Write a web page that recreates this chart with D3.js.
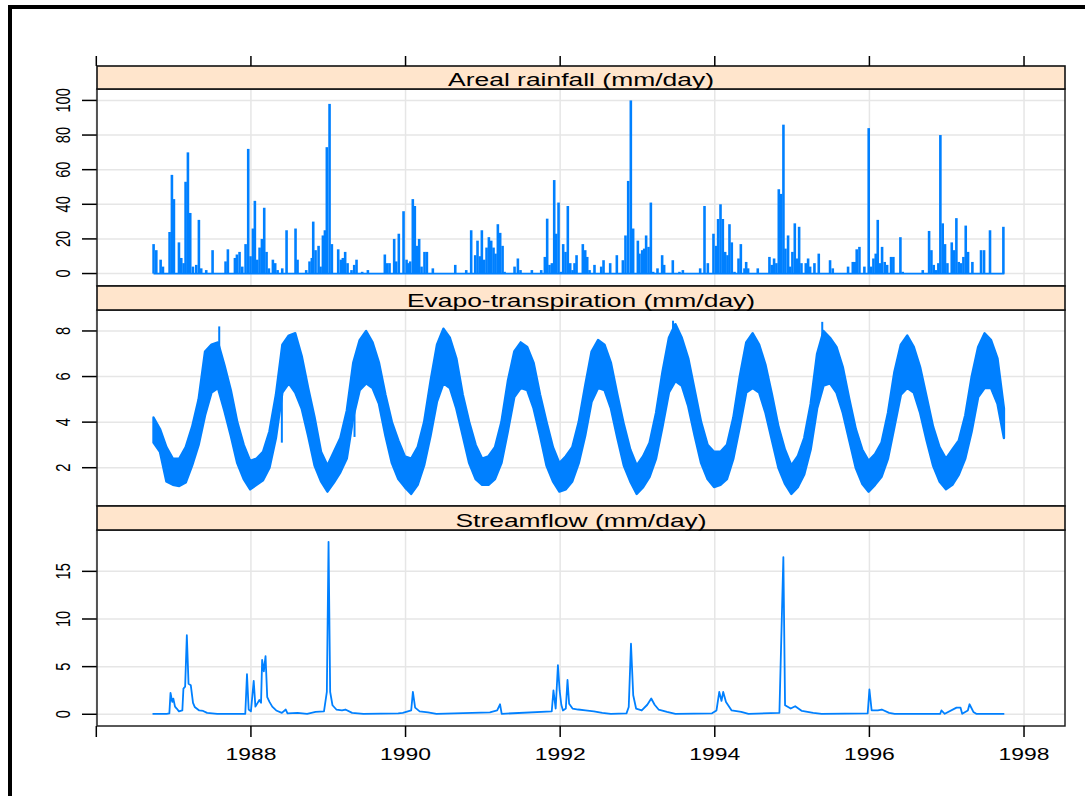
<!DOCTYPE html>
<html>
<head>
<meta charset="utf-8">
<script src="https://d3js.org/d3.v7.min.js"></script>
<style>
  body { margin: 0; background: #fff; }
  text { font-family: "Liberation Sans", Arial, sans-serif; fill: #000; }
</style>
</head>
<body>
<script>
// ---- data ----
var xTicks = [1986, 1988, 1990, 1992, 1994, 1996, 1998];
var xTickLabels = ["", "1988", "1990", "1992", "1994", "1996", "1998"];

var stripTitles = ["Areal rainfall (mm/day)", "Evapo-transpiration (mm/day)", "Streamflow (mm/day)"];
var yTicksRain = [0, 20, 40, 60, 80, 100];
var yTicksEt = [2, 4, 6, 8];
var yTicksFlow = [0, 5, 10, 15];

// rainfall: start/end of record, then wet days [decimal year, mm]
var rainSpan = [1986.74, 1997.746];
var rainDays = [
  [1986.741,17],[1986.776,13.5],[1986.832,8],[1986.862,4],[1986.948,24],[1986.978,57],[1987.004,43],
  [1987.069,18],[1987.099,9],[1987.129,6],[1987.155,53],[1987.185,70],[1987.215,35],[1987.250,4],
  [1987.293,5],[1987.327,31],[1987.357,3],[1987.422,2],[1987.504,13.5],[1987.672,7],[1987.702,14],
  [1987.793,9],[1987.819,11],[1987.853,12.5],[1987.888,4],[1987.931,17],[1987.965,72],[1987.995,10],
  [1988.026,26],[1988.051,42],[1988.082,8],[1988.112,15],[1988.142,20],[1988.172,38],[1988.202,12.5],
  [1988.232,3],[1988.284,8],[1988.314,6],[1988.345,2],[1988.405,3],[1988.461,25],[1988.577,26],
  [1988.603,8],[1988.715,2],[1988.758,7],[1988.788,9],[1988.806,30],[1988.836,13.5],[1988.875,16],
  [1988.901,4],[1988.931,22],[1988.957,25],[1988.982,73],[1989.017,98],[1989.047,17],[1989.129,14],
  [1989.163,8],[1989.189,9],[1989.219,12.5],[1989.250,6],[1989.301,2],[1989.336,5],[1989.366,8],
  [1989.439,1],[1989.513,2],[1989.732,11],[1989.763,6],[1989.793,6],[1989.853,20],[1989.879,7],
  [1989.913,23],[1989.974,36],[1990.013,8],[1990.034,6],[1990.060,7],[1990.094,43],[1990.120,39],
  [1990.146,16],[1990.176,20],[1990.207,4],[1990.245,12.5],[1990.276,12.5],[1990.353,3],
  [1990.643,5],[1990.785,2],[1990.849,25],[1990.901,10.6],[1990.931,19],[1990.962,10],[1990.987,25],
  [1991.018,8],[1991.048,15],[1991.078,21],[1991.108,19],[1991.138,15],[1991.164,11.5],[1991.194,28.5],
  [1991.224,23.5],[1991.255,16],[1991.281,1],[1991.410,4],[1991.453,8.7],[1991.487,2],[1991.634,2],
  [1991.755,2],[1991.802,9.6],[1991.832,31.7],[1991.862,5],[1991.893,6],[1991.923,54],[1991.949,23],
  [1991.979,41],[1992.009,1],[1992.039,17],[1992.069,12.5],[1992.099,39],[1992.130,6],[1992.160,2],
  [1992.186,6],[1992.212,10.6],[1992.293,17],[1992.324,13.5],[1992.350,9.6],[1992.380,2],[1992.444,5],
  [1992.531,4],[1992.561,7.7],[1992.647,6],[1992.733,10.6],[1992.811,7.7],[1992.845,22],[1992.880,53.5],
  [1992.914,100],[1992.944,26],[1993.005,19],[1993.026,11.5],[1993.061,13.5],[1993.087,14.4],
  [1993.112,22],[1993.143,15.4],[1993.173,41],[1993.203,1],[1993.259,3],[1993.319,10.6],[1993.345,5],
  [1993.457,7.7],[1993.543,1],[1993.587,2],[1993.811,3],[1993.867,39],[1993.910,6],[1993.983,23],
  [1994.018,16],[1994.043,31.5],[1994.074,40],[1994.104,31.5],[1994.134,12.5],[1994.164,10.6],
  [1994.190,28.5],[1994.220,18],[1994.255,1],[1994.307,8.7],[1994.337,17],[1994.384,3],[1994.406,6.7],
  [1994.431,3],[1994.556,3],[1994.707,9.6],[1994.737,5],[1994.767,8.7],[1994.797,6],[1994.828,48.7],
  [1994.858,46],[1994.888,86],[1994.914,14.4],[1994.948,22],[1994.974,4],[1995.004,12.5],[1995.035,29],
  [1995.065,8.7],[1995.091,27],[1995.121,6],[1995.177,6],[1995.207,8.7],[1995.233,4],[1995.289,6],
  [1995.345,11.5],[1995.491,7.7],[1995.526,3],[1995.724,4],[1995.785,6.7],[1995.810,6.7],[1995.836,14],
  [1995.871,15.4],[1995.935,4],[1995.991,84],[1996.022,4],[1996.052,8.7],[1996.082,11.5],[1996.108,31],
  [1996.138,6],[1996.164,15.4],[1996.198,6.7],[1996.229,5],[1996.280,9.6],[1996.310,9.6],[1996.401,21],
  [1996.431,1],[1996.690,2],[1996.772,24.6],[1996.802,13.5],[1996.832,5],[1996.862,2],[1996.892,6],
  [1996.918,80],[1996.948,29],[1996.978,17],[1997.009,6],[1997.065,18],[1997.095,13.5],[1997.125,32],
  [1997.155,6.7],[1997.185,6],[1997.216,9.6],[1997.246,27.7],[1997.276,12.5],[1997.332,6.7],
  [1997.444,13.5],[1997.483,13.5],[1997.560,25],[1997.733,27]
];

// evapo-transpiration: monthly low / high of the daily band, from late Sep 1986
var etStart = 1986.74;
var etLow = [
  3.1, 2.7, 1.4, 1.25,
  1.2, 1.35, 2.1, 3.0, 4.3, 5.3, 5.5, 4.5, 3.4, 2.2, 1.5, 1.05,
  1.25, 1.45, 2.0, 3.3, 5.3, 5.7, 5.3, 4.6, 3.4, 2.1, 1.4, 0.95,
  1.35, 1.8, 2.4, 4.2, 5.4, 5.7, 5.5, 4.8, 3.4, 2.2, 1.5, 1.15,
  0.85, 1.25, 2.1, 3.4, 4.9, 5.7, 5.5, 4.6, 3.4, 2.2, 1.5, 1.25,
  1.25, 1.5, 2.2, 3.6, 5.1, 5.5, 5.4, 4.6, 3.4, 2.1, 1.4, 0.95,
  1.05, 1.4, 2.2, 3.4, 4.9, 5.5, 5.4, 4.6, 3.3, 2.1, 1.4, 0.85,
  1.15, 1.6, 2.4, 3.8, 5.3, 5.8, 5.6, 4.7, 3.4, 2.2, 1.5, 1.15,
  1.25, 1.5, 2.4, 3.8, 5.3, 5.5, 5.3, 4.4, 3.2, 2.0, 1.3, 0.85,
  1.15, 1.7, 2.8, 4.6, 5.6, 5.7, 5.3, 4.4, 3.2, 2.0, 1.3, 0.95,
  1.25, 1.6, 2.4, 3.8, 5.2, 5.5, 5.3, 4.4, 3.2, 2.1, 1.4, 1.05,
  1.25, 1.7, 2.4, 3.6, 5.1, 5.5, 5.5, 4.8, 3.3
];
var etHigh = [
  4.2, 3.7, 2.9, 2.4,
  2.4, 2.9, 3.8, 5.0, 7.1, 7.4, 7.5, 6.5, 5.4, 4.0, 3.0, 2.3,
  2.4, 2.7, 3.6, 5.2, 7.4, 7.8, 7.9, 6.9, 5.5, 4.2, 2.7, 2.1,
  2.7, 3.3, 4.5, 6.6, 7.6, 8.0, 7.5, 6.6, 5.2, 4.0, 3.2, 2.5,
  2.4, 2.9, 4.0, 5.8, 7.4, 8.1, 7.7, 6.8, 5.2, 4.0, 3.0, 2.4,
  2.5, 2.9, 4.0, 5.8, 7.1, 7.5, 7.3, 6.6, 5.2, 4.0, 2.9, 2.2,
  2.5, 2.9, 4.0, 5.6, 7.1, 7.6, 7.4, 6.6, 5.2, 3.9, 2.8, 2.1,
  2.5, 3.1, 4.4, 6.2, 7.7, 8.3, 7.7, 6.8, 5.4, 4.0, 3.0, 2.7,
  2.7, 3.0, 4.2, 6.0, 7.5, 7.9, 7.4, 6.5, 5.2, 3.8, 2.8, 2.1,
  2.5, 3.3, 4.8, 7.0, 8.0, 7.7, 7.3, 6.4, 5.0, 3.7, 2.8, 2.3,
  2.6, 3.1, 4.4, 6.2, 7.4, 7.8, 7.3, 6.4, 5.1, 3.8, 2.9, 2.4,
  2.8, 3.2, 4.3, 6.0, 7.3, 7.9, 7.6, 6.8, 4.6
];
// single days sticking out of the band [decimal year, from, to]
var etSpikes = [
  [1987.59, 7.0, 8.2], [1988.40, 5.5, 3.1], [1989.34, 5.0, 3.35],
  [1993.46, 7.8, 8.45], [1995.39, 7.6, 8.4]
];

// streamflow [decimal year, mm]
var flow = [
  [1986.727,0.05],[1986.909,0.05],[1986.945,0.1],[1986.960,2.25],[1986.982,1.3],[1986.996,1.65],
  [1987.018,0.8],[1987.040,0.6],[1987.069,0.3],[1987.113,0.4],[1987.127,2.7],[1987.149,2.9],
  [1987.171,8.3],[1987.193,3.2],[1987.222,3.05],[1987.251,1.2],[1987.273,0.77],[1987.331,0.4],
  [1987.382,0.35],[1987.433,0.15],[1987.564,0.05],[1987.927,0.05],[1987.949,4.2],[1987.971,0.5],
  [1988.000,0.3],[1988.036,3.5],[1988.058,0.8],[1988.087,1.2],[1988.109,1.5],[1988.131,1.2],
  [1988.145,5.7],[1988.167,4.5],[1988.189,6.1],[1988.211,1.8],[1988.240,1.3],[1988.276,0.8],
  [1988.327,0.4],[1988.400,0.15],[1988.451,0.5],[1988.473,0.1],[1988.604,0.15],[1988.727,0.05],
  [1988.836,0.25],[1988.945,0.3],[1988.982,2.35],[1989.004,18.1],[1989.025,2.35],[1989.055,0.95],
  [1989.105,0.5],[1989.178,0.4],[1989.222,0.5],[1989.309,0.15],[1989.455,0.05],[1989.905,0.1],
  [1989.964,0.15],[1990.073,0.4],[1990.095,2.35],[1990.124,0.7],[1990.182,0.3],[1990.291,0.2],
  [1990.400,0.05],[1991.091,0.2],[1991.185,0.4],[1991.222,1.05],[1991.244,0.05],[1991.891,0.3],
  [1991.913,2.5],[1991.942,0.6],[1991.971,5.15],[1991.993,2.5],[1992.015,1.0],[1992.036,0.4],
  [1992.073,0.6],[1992.095,3.6],[1992.116,1.1],[1992.160,0.6],[1992.233,0.5],[1992.327,0.4],
  [1992.436,0.3],[1992.545,0.15],[1992.655,0.05],[1992.858,0.1],[1992.887,0.77],[1992.916,7.4],
  [1992.945,2.0],[1992.982,0.6],[1993.055,0.4],[1993.127,1.0],[1993.178,1.65],[1993.222,1.0],
  [1993.273,0.5],[1993.382,0.25],[1993.491,0.05],[1993.964,0.1],[1994.022,0.4],[1994.058,2.35],
  [1994.087,1.4],[1994.109,2.35],[1994.145,1.3],[1994.218,0.4],[1994.342,0.25],[1994.436,0.05],
  [1994.836,0.15],[1994.887,16.5],[1994.909,0.95],[1994.982,0.6],[1995.040,0.85],[1995.127,0.35],
  [1995.273,0.15],[1995.382,0.05],[1995.978,0.1],[1996.000,2.6],[1996.029,0.4],[1996.109,0.4],
  [1996.160,0.5],[1996.255,0.15],[1996.327,0.05],[1996.916,0.05],[1996.931,0.4],[1996.975,0.05],
  [1997.127,0.7],[1997.178,0.7],[1997.200,0.05],[1997.273,0.4],[1997.295,1.05],[1997.345,0.25],
  [1997.382,0.05],[1997.745,0.05]
];

// ---- layout ----
var W = 1085, H = 796;
var left = 97, right = 1065;
var blue = "#0080ff", gridCol = "#e6e6e6", stripCol = "#ffe5cc";
var stretch = 1.43; // the picture is widened horizontally, text too

var panels = [
  { top: 89,  bottom: 286, strip: 66,  domain: [-7.2, 106.6], ticks: yTicksRain },
  { top: 310, bottom: 506, strip: 286, domain: [0.32, 8.92],  ticks: yTicksEt },
  { top: 530, bottom: 726, strip: 506, domain: [-1.23, 19.34], ticks: yTicksFlow }
];

var svg = d3.select("body").append("svg")
    .attr("width", W)
    .attr("height", H);

svg.append("rect").attr("width", W).attr("height", H).attr("fill", "#fff");

// frame of the image (top and left)
svg.append("rect").attr("x", 8).attr("y", 5).attr("width", W - 8).attr("height", 4).attr("fill", "#000");
svg.append("rect").attr("x", 8).attr("y", 5).attr("width", 4).attr("height", H - 5).attr("fill", "#000");

var x = d3.scaleLinear().domain([1986.009, 1998.53]).range([left, right]);

panels.forEach(function (p, i) {
  p.y = d3.scaleLinear().domain(p.domain).range([p.bottom, p.top]);

  var g = svg.append("g");
  g.append("clipPath").attr("id", "clip" + i)
    .append("rect").attr("x", left).attr("y", p.top)
    .attr("width", right - left).attr("height", p.bottom - p.top);

  // grid
  g.selectAll(".vg").data(xTicks).enter().append("line")
    .attr("x1", d => x(d)).attr("x2", d => x(d))
    .attr("y1", p.top).attr("y2", p.bottom)
    .attr("stroke", gridCol).attr("stroke-width", 1.5);
  g.selectAll(".hg").data(p.ticks).enter().append("line")
    .attr("x1", left).attr("x2", right)
    .attr("y1", d => p.y(d)).attr("y2", d => p.y(d))
    .attr("stroke", gridCol).attr("stroke-width", 1.5);

  p.plot = g.append("g").attr("clip-path", "url(#clip" + i + ")");

  // left ticks and labels
  g.selectAll(".yt").data(p.ticks).enter().append("line")
    .attr("x1", left - 15).attr("x2", left)
    .attr("y1", d => p.y(d)).attr("y2", d => p.y(d))
    .attr("stroke", "#000").attr("stroke-width", 1.5);
  g.selectAll(".yl").data(p.ticks).enter().append("text")
    .attr("transform", d => "translate(70," + p.y(d) + ") scale(" + stretch + ",1) rotate(-90)")
    .attr("text-anchor", "middle")
    .style("font-size", "14.6px")
    .text(d => d);

  // panel border
  g.append("rect").attr("x", left).attr("y", p.top)
    .attr("width", right - left).attr("height", p.bottom - p.top)
    .attr("fill", "none").attr("stroke", "#222").attr("stroke-width", 1.5);

  // strip
  g.append("rect").attr("x", left).attr("y", p.strip)
    .attr("width", right - left).attr("height", p.top - p.strip)
    .attr("fill", stripCol).attr("stroke", "#111").attr("stroke-width", 1.6);
  g.append("text")
    .attr("transform", "translate(" + ((left + right) / 2) + "," + (p.top - 3.5) + ") scale(" + stretch + ",1)")
    .attr("text-anchor", "middle")
    .style("font-size", "18.5px")
    .text(stripTitles[i]);
});

// top ticks
svg.selectAll(".tt").data(xTicks).enter().append("line")
  .attr("x1", d => x(d)).attr("x2", d => x(d))
  .attr("y1", 56).attr("y2", panels[0].strip)
  .attr("stroke", "#000").attr("stroke-width", 1.5);
// bottom ticks and labels
svg.selectAll(".bt").data(xTicks).enter().append("line")
  .attr("x1", d => x(d)).attr("x2", d => x(d))
  .attr("y1", panels[2].bottom).attr("y2", panels[2].bottom + 11)
  .attr("stroke", "#000").attr("stroke-width", 1.5);
svg.selectAll(".bl").data(xTicks).enter().append("text")
  .attr("transform", d => "translate(" + x(d) + ",760) scale(" + stretch + ",1)")
  .attr("text-anchor", "middle")
  .style("font-size", "16px")
  .text((d, i) => xTickLabels[i]);

// ---- rainfall ----
var pr = panels[0];
pr.plot.append("line")
  .attr("x1", x(rainSpan[0])).attr("x2", x(rainSpan[1]))
  .attr("y1", pr.y(0)).attr("y2", pr.y(0))
  .attr("stroke", blue).attr("stroke-width", 1.8);
pr.plot.selectAll(".rain").data(rainDays).enter().append("line")
  .attr("x1", d => x(d[0])).attr("x2", d => x(d[0]))
  .attr("y1", pr.y(0)).attr("y2", d => pr.y(d[1]))
  .attr("stroke", blue).attr("stroke-width", 2.6);

// ---- evapo-transpiration ----
var pe = panels[1];
var etRows = etLow.map((v, i) => ({ t: etStart + i / 12, lo: v, hi: etHigh[i] }));
pe.plot.append("path")
  .datum(etRows)
  .attr("d", d3.area().x(d => x(d.t)).y0(d => pe.y(d.lo)).y1(d => pe.y(d.hi)))
  .attr("fill", blue).attr("stroke", blue).attr("stroke-width", 2.4).attr("stroke-linejoin", "round");
pe.plot.selectAll(".ets").data(etSpikes).enter().append("line")
  .attr("x1", d => x(d[0])).attr("x2", d => x(d[0]))
  .attr("y1", d => pe.y(d[1])).attr("y2", d => pe.y(d[2]))
  .attr("stroke", blue).attr("stroke-width", 2);

// ---- streamflow ----
var pf = panels[2];
pf.plot.append("path")
  .datum(flow)
  .attr("d", d3.line().x(d => x(d[0])).y(d => pf.y(d[1])))
  .attr("fill", "none").attr("stroke", blue).attr("stroke-width", 1.8).attr("stroke-linejoin", "round");
</script>
</body>
</html>
